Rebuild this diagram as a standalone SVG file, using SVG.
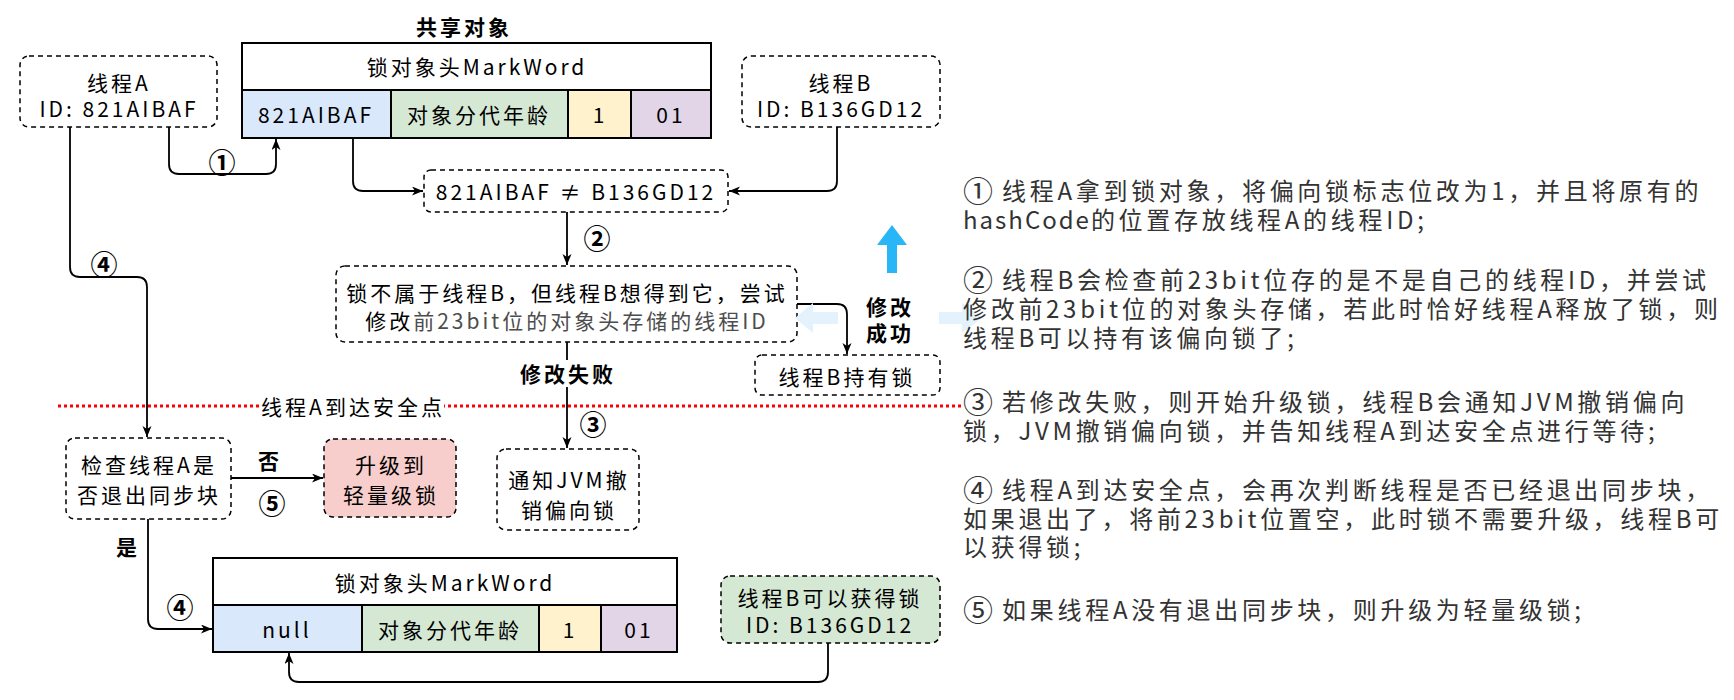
<svg xmlns="http://www.w3.org/2000/svg" width="1734" height="700" viewBox="0 0 1734 700">
<style>
.t{font-family:'Noto Sans CJK SC','Noto Sans',sans-serif;font-size:21px;letter-spacing:3px;fill:#000;text-anchor:middle;dominant-baseline:central}
.b{font-weight:bold}
.n{font-family:'Noto Sans CJK SC',sans-serif;font-size:27px;font-weight:bold;fill:#000;text-anchor:middle;dominant-baseline:central}
.r{font-family:'Noto Sans CJK SC','Noto Sans',sans-serif;font-size:24px;letter-spacing:3.7px;fill:#333;dominant-baseline:central}
.c{font-size:30px;letter-spacing:0}
.l{letter-spacing:2px}
.dash{fill:#fff;stroke:#000;stroke-width:1.5;stroke-dasharray:5 4}
.cell{stroke:#000;stroke-width:2}
.conn{fill:none;stroke:#000;stroke-width:1.8;marker-end:url(#ah)}
.faint{fill:#e3f2fc}
</style>
<defs>
<marker id="ah" markerUnits="userSpaceOnUse" markerWidth="12" markerHeight="10" refX="11" refY="4.5" orient="auto">
<path d="M0,0 L11,4.5 L0,9 L3,4.5 Z" fill="#000"/>
</marker>
</defs>
<rect width="1734" height="700" fill="#fff"/>

<g id="connectors">
<path class="conn" d="M353,138 V181 Q353,191 363,191 H423"/>
<path class="conn" d="M837,127 V181 Q837,191 827,191 H729"/>
<path class="conn" d="M169,127 V164 Q169,174 179,174 H266 Q276,174 276,164 V139"/>
<path class="conn" d="M70,127 V267 Q70,277 80,277 H137 Q147,277 147,287 V437"/>
<path class="conn" d="M567,212 V265"/>
<path class="conn" d="M797,304 H837 Q847,304 847,314 V354"/>
<path class="conn" d="M567,342 V448"/>
<path class="conn" d="M231,478 H323"/>
<path class="conn" d="M148,519 V619 Q148,629 158,629 H212"/>
<path class="conn" d="M828,643 V672 Q828,682 818,682 H299 Q289,682 289,672 V653"/>
</g>

<g id="safepoint-line">
<line x1="58" y1="406" x2="962" y2="406" stroke="#ff0000" stroke-width="3" stroke-dasharray="3 3"/>
<rect x="262" y="392" width="182" height="28" fill="#fff"/>
<text class="t" x="353" y="406">线程A到达安全点</text>
</g>

<g id="label-shared">
<text class="t b" x="464" y="26">共享对象</text>
</g>

<g id="threadA">
<rect class="dash" x="20" y="56" width="197" height="71" rx="9"/>
<text class="t" x="119" y="82">线程A<tspan x="119" dy="26">ID: 821AIBAF</tspan></text>
</g>

<g id="markword1">
<rect class="cell" x="242" y="43" width="469" height="47" fill="#fff"/>
<rect class="cell" x="242" y="90" width="149" height="48" fill="#dae8fc"/>
<rect class="cell" x="391" y="90" width="177" height="48" fill="#d5e8d4"/>
<rect class="cell" x="568" y="90" width="63" height="48" fill="#fff2cc"/>
<rect class="cell" x="631" y="90" width="80" height="48" fill="#e1d5e7"/>
<text class="t" x="477" y="66">锁对象头MarkWord</text>
<text class="t" x="316" y="114">821AIBAF</text>
<text class="t" x="479" y="114">对象分代年龄</text>
<text class="t" x="600" y="114">1</text>
<text class="t" x="671" y="114">01</text>
</g>

<g id="threadB">
<rect class="dash" x="742" y="56" width="198" height="71" rx="9"/>
<text class="t" x="841" y="82">线程B<tspan x="841" dy="26">ID: B136GD12</tspan></text>
</g>

<g id="compare">
<rect class="dash" x="424" y="170" width="304" height="42" rx="7"/>
<text class="t" x="576" y="191">821AIBAF ≠ B136GD12</text>
</g>

<g id="label-1"><text class="n" x="222" y="161">①</text></g>
<g id="label-4a"><text class="n" x="104" y="263">④</text></g>
<g id="label-2"><text class="n" x="597" y="237">②</text></g>

<g id="try-modify">
<rect class="dash" x="336" y="266" width="461" height="76" rx="9"/>
<text class="t" x="567" y="292">锁不属于线程B，但线程B想得到它，尝试<tspan x="567" dy="28">修改</tspan><tspan fill="#4d4d4d">前23bit位的对象头存储的线程ID</tspan></text>
</g>

<g id="faint-arrows">
<polygon class="faint" points="795,318 813,303 813,312 838,312 838,324 813,324 813,333"/>
<polygon class="faint" points="939,312 962,312 962,303 982,318 962,333 962,324 939,324"/>
</g>

<g id="blue-arrow">
<polygon fill="#29b6f6" points="892,225 907,245 897,245 897,273 887,273 887,245 877,245"/>
</g>

<g id="label-success">
<text class="t b" x="890" y="306">修改<tspan x="890" dy="26">成功</tspan></text>
</g>

<g id="threadB-holds">
<rect class="dash" x="755" y="355" width="185" height="40" rx="7"/>
<text class="t" x="847" y="376">线程B持有锁</text>
</g>

<g id="label-fail">
<rect x="515" y="360" width="104" height="27" fill="#fff"/>
<text class="t b" x="568" y="373">修改失败</text>
</g>
<g id="label-3"><text class="n" x="593" y="423">③</text></g>

<g id="check">
<rect class="dash" x="66" y="438" width="165" height="81" rx="9"/>
<text class="t" x="149" y="464">检查线程A是<tspan x="149" dy="30">否退出同步块</tspan></text>
</g>

<g id="label-no"><text class="t b" x="270" y="460">否</text></g>
<g id="label-5"><text class="n" x="272" y="502">⑤</text></g>

<g id="upgrade">
<rect class="dash" x="324" y="439" width="132" height="78" rx="9" style="fill:#f8cecc"/>
<text class="t" x="391" y="464">升级到<tspan x="391" dy="30">轻量级锁</tspan></text>
</g>

<g id="notify-jvm">
<rect class="dash" x="497" y="449" width="142" height="81" rx="9"/>
<text class="t" x="569" y="479">通知JVM撤<tspan x="569" dy="30">销偏向锁</tspan></text>
</g>

<g id="label-yes"><text class="t b" x="128" y="546">是</text></g>
<g id="label-4b"><text class="n" x="180" y="606">④</text></g>

<g id="markword2">
<rect class="cell" x="213" y="558" width="464" height="47" fill="#fff"/>
<rect class="cell" x="213" y="605" width="149" height="47" fill="#dae8fc"/>
<rect class="cell" x="362" y="605" width="177" height="47" fill="#d5e8d4"/>
<rect class="cell" x="539" y="605" width="62" height="47" fill="#fff2cc"/>
<rect class="cell" x="601" y="605" width="76" height="47" fill="#e1d5e7"/>
<text class="t" x="445" y="582">锁对象头MarkWord</text>
<text class="t" x="287" y="629">null</text>
<text class="t" x="450" y="629">对象分代年龄</text>
<text class="t" x="570" y="629">1</text>
<text class="t" x="639" y="629">01</text>
</g>

<g id="threadB-acquire">
<rect class="dash" x="721" y="576" width="219" height="67" rx="9" style="fill:#d5e8d4"/>
<text class="t" x="830" y="597">线程B可以获得锁<tspan x="830" dy="27">ID: B136GD12</tspan></text>
</g>

<g id="notes">
<text class="r" x="963" y="189"><tspan class="c">①</tspan> 线程A拿到锁对象，将偏向锁标志位改为1，并且将原有的<tspan x="963" dy="29" class="l">hashCode</tspan>的位置存放线程A的线程ID;</text>
<text class="r" x="963" y="278"><tspan class="c">②</tspan> 线程B会检查前23bit位存的是不是自己的线程ID，并尝试<tspan x="963" dy="29">修改前23bit位的对象头存储，若此时恰好线程A释放了锁，则</tspan><tspan x="963" dy="29">线程B可以持有该偏向锁了;</tspan></text>
<text class="r" x="963" y="400"><tspan class="c">③</tspan> 若修改失败，则开始升级锁，线程B会通知JVM撤销偏向<tspan x="963" dy="29">锁，JVM撤销偏向锁，并告知线程A到达安全点进行等待;</tspan></text>
<text class="r" x="963" y="488"><tspan class="c">④</tspan> 线程A到达安全点，会再次判断线程是否已经退出同步块，<tspan x="963" dy="29">如果退出了，将前23bit位置空，此时锁不需要升级，线程B可</tspan><tspan x="963" dy="28">以获得锁;</tspan></text>
<text class="r" x="963" y="608"><tspan class="c">⑤</tspan> 如果线程A没有退出同步块，则升级为轻量级锁;</text>
</g>
</svg>
